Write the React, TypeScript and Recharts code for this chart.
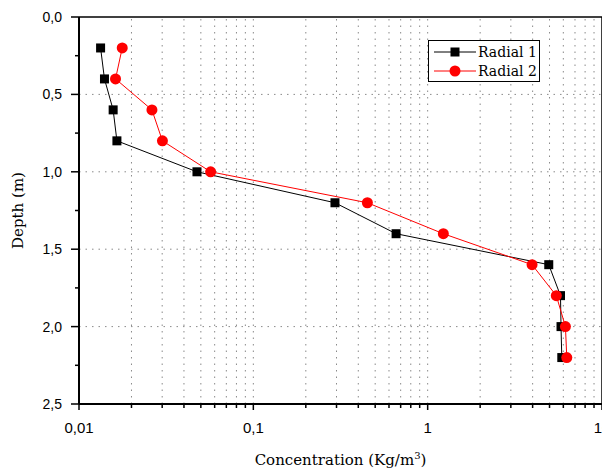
import { ScatterChart, Scatter, XAxis, YAxis, ReferenceLine, Label } from "recharts";

const depths = [0.2, 0.4, 0.6, 0.8, 1.0, 1.2, 1.4, 1.6, 1.8, 2.0, 2.2];
const radial1 = [0.0133, 0.014, 0.0157, 0.0165, 0.0475, 0.294, 0.659, 4.95, 5.78, 5.82, 5.88];
const radial2 = [0.0177, 0.0162, 0.0262, 0.0301, 0.0569, 0.451, 1.23, 3.97, 5.47, 6.17, 6.28];

const xMajorTicks = [0.01, 0.1, 1, 10];
const xMinorTicks = [
  0.02, 0.03, 0.04, 0.05, 0.06, 0.07, 0.08, 0.09,
  0.2, 0.3, 0.4, 0.5, 0.6, 0.7, 0.8, 0.9,
  2, 3, 4, 5, 6, 7, 8, 9,
];
const yMajorTicks = [0, 0.5, 1, 1.5, 2, 2.5];
const yMinorTicks = [0.25, 0.75, 1.25, 1.75, 2.25];
const yGridLines = [0.5, 1, 1.5, 2];

const series1 = depths.map((d, i) => ({ conc: radial1[i], depth: d }));
const series2 = depths.map((d, i) => ({ conc: radial2[i], depth: d }));

const allX = [...xMajorTicks, ...xMinorTicks].sort((a, b) => a - b);
const allY = [...yMajorTicks, ...yMinorTicks].sort((a, b) => a - b);

const SANS = "Liberation Sans";
const SERIF = "DejaVu Serif";
const TICK_SIZE = 8;
const TICK_MARGIN = 4;

function fmtComma(v: number, digits: number) {
  return v.toFixed(digits).replace(".", ",");
}

function YTick(props: any) {
  const { x, y, payload } = props;
  const axisX = x + TICK_SIZE + TICK_MARGIN;
  const major = yMajorTicks.includes(payload.value);
  return (
    <g>
      <line x1={axisX} x2={axisX - (major ? 8 : 4)} y1={y} y2={y} stroke="#000" strokeWidth={1.5} />
      {major && (
        <text x={axisX - 17} y={y} dy="0.35em" textAnchor="end" style={{ fontFamily: SANS }} fontSize={14} fill="#000">
          {fmtComma(payload.value, 1)}
        </text>
      )}
    </g>
  );
}

function XTick(props: any) {
  const { x, y, payload } = props;
  const axisY = y - TICK_SIZE - TICK_MARGIN;
  const major = xMajorTicks.includes(payload.value);
  const label = payload.value < 1 ? String(payload.value).replace(".", ",") : String(payload.value);
  return (
    <g>
      <line x1={x} x2={x} y1={axisY} y2={axisY + (major ? 6 : 4)} stroke="#000" strokeWidth={1.5} />
      {major && (
        <text x={x} y={axisY + 29} textAnchor="middle" style={{ fontFamily: SANS }} fontSize={15} fill="#000">
          {label}
        </text>
      )}
    </g>
  );
}

const squareShape = (p: any) => <rect x={p.cx - 4.5} y={p.cy - 4.5} width={9} height={9} fill="#000" />;
const circleShape = (p: any) => <circle cx={p.cx} cy={p.cy} r={5.5} fill="#ff0000" />;

function LegendBox() {
  const row = (color: string, label: string, square: boolean) => (
    <div style={{ display: "flex", alignItems: "center", height: 19 }}>
      <svg width={42} height={14} style={{ display: "block" }}>
        <line x1={0} x2={42} y1={7} y2={7} stroke={color} strokeWidth={1} />
        {square ? <rect x={16.5} y={2.5} width={9} height={9} fill={color} /> : <circle cx={21} cy={7} r={5.5} fill={color} />}
      </svg>
      <span style={{ marginLeft: 2, fontFamily: SERIF, fontSize: 14, color: "#000", whiteSpace: "nowrap" }}>{label}</span>
    </div>
  );
  return (
    <div
      style={{
        position: "absolute",
        left: 420,
        top: 32,
        width: 105,
        height: 39,
        border: "1.5px solid #000",
        padding: "1px 0 0 5px",
        background: "#fff",
      }}
    >
      {row("#000", "Radial 1", true)}
      {row("#ff0000", "Radial 2", false)}
    </div>
  );
}

export default function App() {
  return (
    <div style={{ position: "relative", width: 600, height: 467 }}>
      <ScatterChart width={600} height={467} margin={{ top: 9, right: 6, bottom: 41, left: 11 }}>
        <XAxis
          dataKey="conc"
          type="number"
          scale="log"
          domain={[0.01, 10]}
          allowDataOverflow
          ticks={allX}
          interval={0}
          height={30}
          tickSize={TICK_SIZE}
          tickMargin={TICK_MARGIN}
          tickLine={false}
          tick={<XTick />}
          axisLine={{ stroke: "#000", strokeWidth: 2 }}
        >
          <Label
            content={(props: any) => {
              const vb = props.viewBox;
              const cx = vb.x + vb.width / 2;
              return (
                <text x={cx} y={vb.y + 61} textAnchor="middle" style={{ fontFamily: SERIF }} fontSize={15} fill="#000">
                  Concentration (Kg/m
                  <tspan dy={-6} fontSize={10}>3</tspan>
                  <tspan dy={6}>)</tspan>
                </text>
              );
            }}
          />
        </XAxis>
        <YAxis
          dataKey="depth"
          type="number"
          domain={[0, 2.5]}
          reversed
          ticks={allY}
          interval={0}
          width={60}
          tickSize={TICK_SIZE}
          tickMargin={TICK_MARGIN}
          tickLine={false}
          tick={<YTick />}
          axisLine={{ stroke: "#000", strokeWidth: 2 }}
        >
          <Label
            content={(props: any) => {
              const vb = props.viewBox;
              const cy = vb.y + vb.height / 2;
              const x = 10;
              return (
                <text
                  x={x}
                  y={cy}
                  transform={`rotate(-90 ${x} ${cy})`}
                  textAnchor="middle"
                  dominantBaseline="central"
                  style={{ fontFamily: SERIF }}
                  fontSize={15}
                  fill="#000"
                >
                  Depth (m)
                </text>
              );
            }}
          />
        </YAxis>
        {[...xMinorTicks, 0.1, 1].map((v) => (
          <ReferenceLine key={"vx" + v} x={v} stroke="#8a8a8a" strokeWidth={1} strokeDasharray="1.5 5" />
        ))}
        {yGridLines.map((v) => (
          <ReferenceLine key={"hy" + v} y={v} stroke="#8a8a8a" strokeWidth={1} strokeDasharray="1.5 5" />
        ))}
        <ReferenceLine y={0} stroke="#000" strokeWidth={1.5} />
        <ReferenceLine x={10} stroke="#000" strokeWidth={1.5} />
        <Scatter
          name="Radial 1"
          data={series1}
          line={{ stroke: "#000", strokeWidth: 1 }}
          lineType="joint"
          shape={squareShape}
          isAnimationActive={false}
        />
        <Scatter
          name="Radial 2"
          data={series2}
          line={{ stroke: "#ff0000", strokeWidth: 1 }}
          lineType="joint"
          shape={circleShape}
          isAnimationActive={false}
        />
      </ScatterChart>
      <LegendBox />
    </div>
  );
}
